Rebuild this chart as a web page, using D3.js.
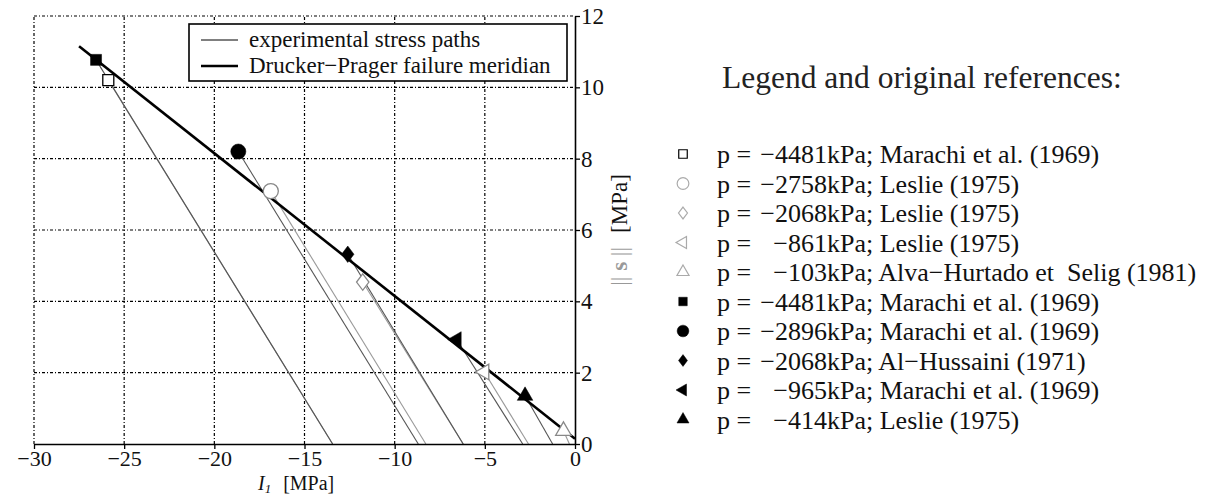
<!DOCTYPE html>
<html><head><meta charset="utf-8">
<script src="https://cdn.jsdelivr.net/npm/d3@7"></script>
<style>
body{margin:0;background:#fff}
svg{display:block}
text{font-family:"Liberation Serif","Times New Roman",serif;white-space:pre;}
</style>
</head><body><svg id="c" width="1213" height="497"></svg>
<script>
// ---------------- data ----------------
const pValues = [-4481, -2758, -2068, -861, -103, -4481, -2896, -2068, -965, -414];
const references = ["Marachi et al. (1969)", "Leslie (1975)", "Leslie (1975)", "Leslie (1975)",
  "Alva\u2212Hurtado et  Selig (1981)", "Marachi et al. (1969)", "Marachi et al. (1969)",
  "Al\u2212Hussaini (1971)", "Marachi et al. (1969)", "Leslie (1975)"];
const markerShapes = ["square", "circle", "diamond", "triangleLeft", "triangleUp",
  "square", "circle", "diamond", "triangleLeft", "triangleUp"];
const markerFilled = [false, false, false, false, false, true, true, true, true, true];
// failure points (I1 [MPa], ||s|| [MPa])
const failureI1 = [-25.88, -16.87, -11.77, -5.03, -0.64, -26.56, -18.67, -12.6, -6.56, -2.77];
const failureS  = [10.2, 7.09, 4.54, 2.02, 0.37, 10.77, 8.2, 5.32, 2.93, 1.35];
// start of each stress path on the I1 axis (||s|| = 0)
const pathStartI1 = [-13.44, -8.27, -6.2, -2.58, -0.31, -13.44, -8.69, -6.2, -2.9, -1.24];
// Drucker-Prager failure meridian end points
const dpI1 = [-27.5, 0];
const dpS  = [11.15, 0.15];
const xTicks = [-30, -25, -20, -15, -10, -5, 0];
const yTicks = [0, 2, 4, 6, 8, 10, 12];
const plotLegendLabels = ["experimental stress paths", "Drucker\u2212Prager failure meridian"];
const legendTitle = "Legend and original references:";

// ---------------- drawing ----------------
const svg = d3.select("#c");
const x = d3.scaleLinear().domain([-30, 0]).range([34, 575]);
const y = d3.scaleLinear().domain([0, 12]).range([444, 16]);

function symbolPath(shape, big) {
  const k = big ? 1 : 0.6;
  if (shape === "diamond") {
    const w = 6.2 * (big ? 1 : 0.72), h = 8.2 * (big ? 1 : 0.72);
    return `M0,${-h}L${w},0L0,${h}L${-w},0Z`;
  }
  let type = d3.symbolSquare, size = 121;
  if (shape === "circle") { type = d3.symbolCircle; size = 180; }
  if (shape === "triangleUp" || shape === "triangleLeft") { type = d3.symbolTriangle; size = 105; }
  return d3.symbol().type(type).size(size * k)();
}
function symbolRot(shape) { return shape === "triangleLeft" ? " rotate(-90)" : ""; }

// grid
const grid = svg.append("g").attr("stroke", "#000").attr("stroke-width", 1.2)
  .attr("stroke-dasharray", "3,2,1,2");
xTicks.filter(t => t < 0).forEach(t => grid.append("line")
  .attr("x1", x(t)).attr("x2", x(t)).attr("y1", y(0)).attr("y2", y(12)));
yTicks.filter(t => t > 0).forEach(t => grid.append("line")
  .attr("x1", x(-30)).attr("x2", x(0)).attr("y1", y(t)).attr("y2", y(t)));

// stress paths
const line = d3.line().x(d => x(d[0])).y(d => y(d[1]));
pValues.forEach((p, i) => {
  svg.append("path")
    .attr("d", line([[pathStartI1[i], 0], [failureI1[i], failureS[i]]]))
    .attr("fill", "none")
    .attr("stroke", markerFilled[i] ? "#555" : "#999")
    .attr("stroke-width", 1.1);
});

// Drucker-Prager meridian
svg.append("path")
  .attr("d", line(dpI1.map((v, i) => [v, dpS[i]])))
  .attr("fill", "none").attr("stroke", "#000").attr("stroke-width", 2.6);

// markers
pValues.forEach((p, i) => {
  const shape = markerShapes[i];
  const filled = markerFilled[i];
  svg.append("path")
    .attr("d", symbolPath(shape, true))
    .attr("transform", `translate(${x(failureI1[i])},${y(failureS[i])})` + symbolRot(shape))
    .attr("fill", filled ? "#000" : "#fff")
    .attr("stroke", filled ? "#000" : (shape === "square" ? "#000" : "#888"))
    .attr("stroke-width", filled ? 0.5 : 1.3);
});

// in-plot legend box
const lg = svg.append("g");
lg.append("rect").attr("x", 189).attr("y", 24).attr("width", 378).attr("height", 57)
  .attr("fill", "#fff").attr("stroke", "#000").attr("stroke-width", 1.6);
[1, 2.6].forEach((w, i) => {
  lg.append("line").attr("x1", 201).attr("x2", 238)
    .attr("y1", 40 + i * 26).attr("y2", 40 + i * 26)
    .attr("stroke", "#000").attr("stroke-width", w);
  lg.append("text").attr("x", 249).attr("y", 47 + i * 25.5)
    .attr("font-size", 23).attr("fill", "#111").text(plotLegendLabels[i]);
});

// axes
const fmt = d => d3.format("d")(d).replace("-", "\u2212");
const xAxis = svg.append("g").attr("transform", `translate(0,${y(0)})`)
  .call(d3.axisBottom(x).tickValues(xTicks).tickSize(5).tickSizeOuter(0).tickPadding(1).tickFormat(fmt));
const yAxis = svg.append("g").attr("transform", `translate(${x(0)},0)`)
  .call(d3.axisRight(y).tickValues(yTicks).tickSize(5).tickSizeOuter(0).tickPadding(1).tickFormat(fmt));
[xAxis, yAxis].forEach(a => {
  a.attr("font-family", null).attr("font-size", null);
  a.select(".domain").attr("stroke-width", 1.6);
  a.selectAll(".tick line").attr("stroke-width", 1.3);
  a.selectAll("text").attr("font-size", 23).attr("fill", "#111");
});
xAxis.selectAll("text").attr("font-size", 22);

// axis labels
const xl = svg.append("text").attr("x", 258).attr("y", 490).attr("font-size", 20).attr("fill", "#111");
xl.append("tspan").attr("font-style", "italic").text("I");
xl.append("tspan").attr("font-style", "italic").attr("font-size", 13).attr("dy", 3).text("1");
xl.append("tspan").attr("dy", -3).attr("dx", 12).text("[MPa]");

const yl = svg.append("text").attr("transform", "translate(627,230) rotate(-90)")
  .attr("text-anchor", "middle").attr("font-size", 23);
yl.append("tspan").attr("fill", "#999").text("|| ");
yl.append("tspan").attr("fill", "#999").attr("font-weight", "bold").text("s");
yl.append("tspan").attr("fill", "#999").text(" ||");
yl.append("tspan").attr("fill", "#111").attr("dx", 14).text("[MPa]");

// right legend
svg.append("text").attr("x", 722).attr("y", 88).attr("font-size", 31.5).attr("fill", "#222")
  .text(legendTitle);
const rowY = d3.scaleLinear().domain([0, 9]).range([154, 419.5]);
pValues.forEach((p, i) => {
  const cy = rowY(i);
  const shape = markerShapes[i];
  const filled = markerFilled[i];
  svg.append("path")
    .attr("d", symbolPath(shape, false))
    .attr("transform", `translate(683,${cy})` + symbolRot(shape))
    .attr("fill", filled ? "#000" : "#fff")
    .attr("stroke", filled ? "#000" : (shape === "square" ? "#000" : "#aaa"))
    .attr("stroke-width", filled ? 0.5 : 1.2);
  const ty = cy + 9;
  svg.append("text").attr("x", 717).attr("y", ty).attr("font-size", 26).attr("fill", "#111").text("p =");
  svg.append("text").attr("x", 827).attr("y", ty).attr("font-size", 26).attr("fill", "#111")
    .attr("text-anchor", "end").text(fmt(p));
  svg.append("text").attr("x", 827).attr("y", ty).attr("font-size", 26).attr("fill", "#111")
    .text("kPa; " + references[i]);
});
</script>
</body></html>
